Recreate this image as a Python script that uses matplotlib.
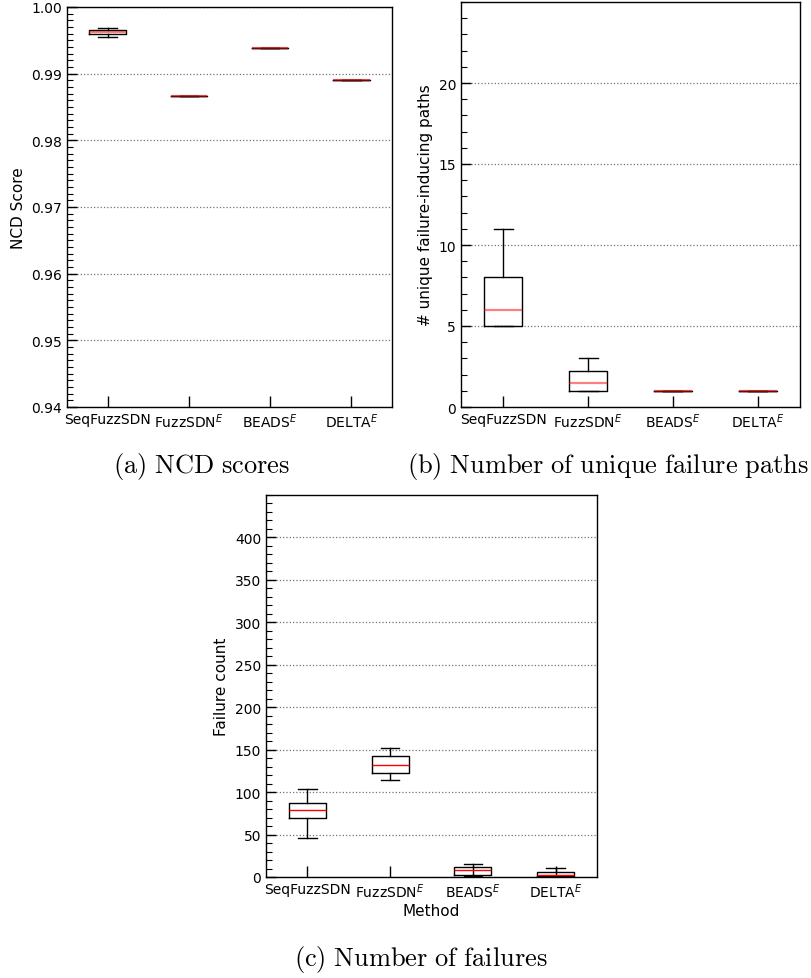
"""
Box plots comparing SeqFuzzSDN against the FuzzSDN, BEADS and DELTA baselines:
  (a) NCD scores
  (b) number of unique failure-inducing paths
  (c) number of failures
"""

from typing import Dict, List

import matplotlib
matplotlib.use("Agg")
import matplotlib.pyplot as plt
from matplotlib.ticker import MultipleLocator

METHODS = ["SeqFuzzSDN", "FuzzSDN$^E$", "BEADS$^E$", "DELTA$^E$"]

# ---------- Per-method box statistics ----------

# (a) NCD score
ncd_whislo = [0.99557, 0.9867, 0.99379, 0.98910]
ncd_q1 = [0.99590, 0.9867, 0.99379, 0.98910]
ncd_med = [0.99619, 0.9867, 0.99379, 0.98910]
ncd_q3 = [0.99648, 0.9867, 0.99379, 0.98910]
ncd_whishi = [0.99678, 0.9867, 0.99379, 0.98910]

# (b) unique failure-inducing paths
paths_whislo = [5, 1, 1, 1]
paths_q1 = [5, 1, 1, 1]
paths_med = [6, 1.5, 1, 1]
paths_q3 = [8, 2.25, 1, 1]
paths_whishi = [11, 3, 1, 1]

# (c) failure count
fail_whislo = [46, 114, 1, 0]
fail_q1 = [69, 123, 2, 1]
fail_med = [79, 132, 8, 2]
fail_q3 = [87, 142, 11.5, 5.5]
fail_whishi = [104, 152, 15.5, 10.5]

LABEL_SIZE = 11


def box_stats(whislo, q1, med, q3, whishi) -> List[Dict[str, float]]:
    """Build the list of dicts that Axes.bxp expects."""
    return [
        {"whislo": lo, "q1": a, "med": m, "q3": b, "whishi": hi, "fliers": []}
        for lo, a, m, b, hi in zip(whislo, q1, med, q3, whishi)
    ]


def style_axes(ax, minor: float, ylim, yticks) -> None:
    ax.set_ylim(*ylim)
    ax.set_yticks(yticks)
    ax.yaxis.set_minor_locator(MultipleLocator(minor))
    ax.tick_params(axis="y", which="major", direction="in", length=7,
                   width=1.0, labelsize=10, right=False)
    ax.tick_params(axis="y", which="minor", direction="in", length=4,
                   width=0.8, right=False)
    ax.tick_params(axis="x", which="major", direction="in", length=8,
                   width=1.0, labelsize=10, top=False)
    ax.yaxis.grid(True, which="major", linestyle=":", color="0.45", linewidth=0.9)
    ax.set_axisbelow(True)
    for sp in ax.spines.values():
        sp.set_linewidth(1.0)


def draw_box(ax, stats, median_alpha: float = 1.0) -> None:
    ax.bxp(
        stats,
        positions=[1, 2, 3, 4],
        widths=0.45,
        showfliers=False,
        boxprops={"color": "black", "linewidth": 1.0},
        whiskerprops={"color": "black", "linewidth": 1.0},
        capprops={"color": "black", "linewidth": 1.0},
        medianprops={"color": "red", "linewidth": 1.6 if median_alpha < 1 else 1.0,
                     "alpha": median_alpha},
    )
    ax.set_xlim(0.5, 4.5)
    ax.set_xticks([1, 2, 3, 4])
    ax.set_xticklabels(METHODS)


W, H = 811, 979


def px_axes(fig, left, top, right, bottom):
    return fig.add_axes([left / W, 1 - bottom / H, (right - left) / W, (bottom - top) / H])


def caption(fig, x, y, text) -> None:
    # Computer Modern via mathtext for the sub-figure captions
    body = text.replace(" ", r"\ ")
    fig.text(x / W, 1 - y / H, r"$\mathrm{" + body + "}$", fontsize=19,
             math_fontfamily="cm", ha="center", va="center")


plt.rcParams["mathtext.fontset"] = "dejavusans"
fig = plt.figure(figsize=(W / 100, H / 100), dpi=100)

# (a) NCD scores
ax_a = px_axes(fig, 67, 8, 392, 408)
draw_box(ax_a, box_stats(ncd_whislo, ncd_q1, ncd_med, ncd_q3, ncd_whishi), 0.5)
style_axes(ax_a, 0.001, (0.94, 1.0),
           [0.94, 0.95, 0.96, 0.97, 0.98, 0.99, 1.00])
ax_a.set_yticklabels(["0.94", "0.95", "0.96", "0.97", "0.98", "0.99", "1.00"])
ax_a.set_ylabel("NCD Score", fontsize=LABEL_SIZE)
caption(fig, 201, 467, "(a) NCD scores")

# (b) unique failure paths
ax_b = px_axes(fig, 461, 3, 800, 408)
draw_box(ax_b, box_stats(paths_whislo, paths_q1, paths_med, paths_q3, paths_whishi), 0.5)
style_axes(ax_b, 1, (0, 25), [0, 5, 10, 15, 20])
ax_b.set_ylabel("# unique failure-inducing paths", fontsize=LABEL_SIZE)
caption(fig, 608, 467, "(b) Number of unique failure paths")

# (c) failure count
ax_c = px_axes(fig, 266, 496, 597, 878)
draw_box(ax_c, box_stats(fail_whislo, fail_q1, fail_med, fail_q3, fail_whishi))
style_axes(ax_c, 10, (0, 450), [0, 50, 100, 150, 200, 250, 300, 350, 400])
ax_c.set_ylabel("Failure count", fontsize=LABEL_SIZE)
ax_c.set_xlabel("Method", fontsize=LABEL_SIZE, labelpad=2)
caption(fig, 421, 960, "(c) Number of failures")

fig.savefig("out.png", dpi=100)
plt.close(fig)
